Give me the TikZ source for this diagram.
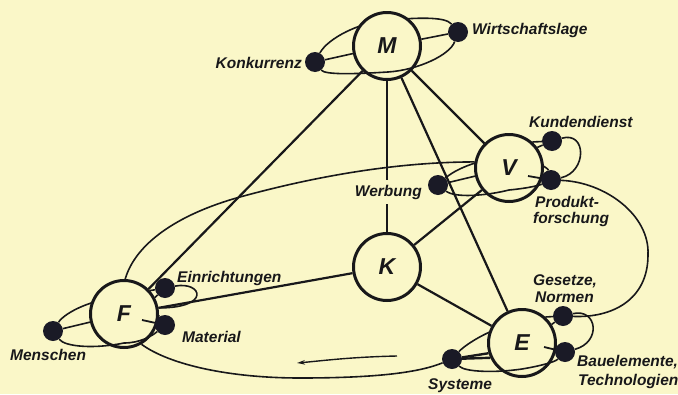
\documentclass[tikz,border=0pt]{standalone}
\usepackage{fontspec}
\setmainfont{Liberation Sans}
\usetikzlibrary{arrows.meta}
\definecolor{bg}{RGB}{250,247,200}
\definecolor{ink}{RGB}{24,24,26}
\definecolor{dotc}{RGB}{26,26,38}
\pgfdeclarelayer{bgl}\pgfdeclarelayer{back}\pgfdeclarelayer{mid}\pgfdeclarelayer{front}
\pgfsetlayers{bgl,back,main,mid,front}
\tikzset{
 hub/.style={circle,draw=ink,line width=3pt,fill=bg,minimum size=67pt,inner sep=0pt,font=\fontsize{23}{23}\selectfont\bfseries\itshape,text=ink},
 sat/.style={circle,fill=dotc,minimum size=20pt,inner sep=0pt},
 conn/.style={draw=ink,line width=2.2pt},
 loopln/.style={draw=ink,line width=1.6pt},
 tick/.style={draw=ink,line width=1.8pt},
 lbl/.style={font=\fontsize{15.5}{17}\selectfont\bfseries\itshape,text=ink,inner sep=0pt},
}
\begin{document}
\begin{tikzpicture}[x=1pt,y=-1pt]
\begin{pgfonlayer}{bgl}
\fill[bg] (0,0) rectangle (678,394);
\end{pgfonlayer}
\useasboundingbox (0,0) rectangle (678,394);
% hubs
\node[hub] (M) at (387,46) {M};
\node[hub] (V) at (509,168) {V};
\node[hub] (K) at (387,267) {K};
\node[hub] (F) at (124,314) {F};
\node[hub] (E) at (522,343) {E};
% satellites
\begin{pgfonlayer}{front}
\node[sat] (kon) at (315,62) {};
\node[sat] (wir) at (458,32) {};
\node[sat] (kun) at (552,141) {};
\node[sat] (pro) at (551,180) {};
\node[sat] (wer) at (438,185) {};
\node[sat] (ein) at (165,288) {};
\node[sat] (mat) at (165,325) {};
\node[sat] (men) at (53,331) {};
\node[sat] (ges) at (563,316) {};
\node[sat] (bau) at (565,352) {};
\node[sat] (sys) at (452,359) {};
\end{pgfonlayer}
% helper coordinates
\coordinate (mTop) at (388,20);
\coordinate (mBot) at (388,72);
\coordinate (vTop) at (500,157);
\coordinate (vBot) at (509,190);
\coordinate (fTop) at (120,298);
\coordinate (fBot) at (124,343);
\coordinate (eTop) at (520,322);
\coordinate (eBot) at (522,369);
\coordinate (bigA) at (240,197);
\coordinate (bigB) at (648,255);
\coordinate (bigC) at (300,378);
\coordinate (tickV) at (528,176);
\coordinate (tickF) at (142,320);
\coordinate (tickE) at (544,347);
\coordinate (arrS) at (397,356);
\coordinate (arrE) at (297,363);
% back layer: connectors and hidden arcs
\begin{pgfonlayer}{back}
\draw[conn] (M) -- (F);
\draw[conn] (M) -- (K);
\draw[conn] (M) -- (V);
\draw[conn] (M) -- (E);
\draw[conn] (K) -- (F);
\draw[conn] (K) -- (V);
\draw[conn] (K) -- (E);
% big loop
\draw[loopln] (F.88) .. controls (135,245) and (175,215) .. (bigA) .. controls (320,175) and (400,162) .. (V.170);
\draw[loopln] (pro) .. controls (605,182) and (650,215) .. (bigB) .. controls (648,300) and (612,318) .. (ges);
\draw[loopln] (F.300) .. controls (170,365) and (230,378) .. (bigC) .. controls (380,378) and (420,372) .. (sys);
% M group
\draw[loopln] (kon) .. controls (328,38) and (360,22) .. (mTop) .. controls (415,18) and (445,16) .. (wir);
\draw[loopln] (kon) -- (M);
\draw[loopln] (wir) -- (M);
% V group
\draw[loopln] (wer) .. controls (452,172) and (470,162) .. (vTop) .. controls (530,156) and (548,168) .. (pro);
\draw[loopln] (wer) -- (V);
\draw[loopln] (kun) -- (V.48);
\draw[loopln] (kun) -- (V.36);
\draw[loopln] (kun) .. controls (587,131) and (587,172) .. (pro);
% F group
\draw[loopln] (men) .. controls (65,312) and (95,298) .. (fTop) .. controls (140,298) and (155,310) .. (mat);
\draw[loopln] (men) -- (F);
\draw[loopln] (ein) -- (F.42);
\draw[loopln] (ein) -- (F.28);
\draw[loopln] (ein) .. controls (202,281) and (212,308) .. (F.10);
% E group
\draw[loopln] (sys) .. controls (465,345) and (490,328) .. (eTop) .. controls (540,322) and (555,345) .. (bau);
\draw[conn,line width=2.4pt] (sys) -- (E.197);
\draw[conn,line width=2.4pt] (sys) -- (E.205);
\draw[loopln] (ges) -- (E.48);
\draw[loopln] (ges) -- (E.32);
\draw[loopln] (ges) .. controls (597,308) and (602,342) .. (bau);
% arrow
\draw[ink,line width=1.4pt,-{Stealth[length=8pt,width=4.5pt]}] (arrS) .. controls (350,357) and (320,361) .. (arrE);
\end{pgfonlayer}
% mid layer: arcs crossing over hubs
\begin{pgfonlayer}{mid}
\draw[loopln] (kon) .. controls (325,75) and (355,74) .. (mBot) .. controls (418,70) and (450,55) .. (wir);
\draw[loopln] (wer) .. controls (455,198) and (485,196) .. (vBot) .. controls (530,188) and (540,185) .. (pro);
\draw[loopln] (men) .. controls (65,347) and (95,349) .. (fBot) .. controls (140,343) and (152,336) .. (mat);
\draw[loopln] (sys) .. controls (465,372) and (495,373) .. (eBot) .. controls (540,366) and (555,362) .. (bau);
\draw[tick] (tickV) -- (pro);
\draw[tick] (tickF) -- (mat);
\draw[tick] (tickE) -- (bau);
\end{pgfonlayer}
% labels
\begin{pgfonlayer}{front}
\node[lbl,anchor=base east] (tKon) at (302,68) {Konkurrenz};
\node[lbl,anchor=base west] (tWir) at (472,34) {Wirtschaftslage};
\node[lbl,anchor=base west] (tKun) at (529,127) {Kundendienst};
\node[lbl,anchor=base east,fill=bg,inner xsep=3pt,inner ysep=5pt] (tWer) at (425,196) {Werbung};
\node[lbl,anchor=base west] (tPro1) at (535,207) {Produkt-};
\node[lbl,anchor=base west] (tPro2) at (533,223) {forschung};
\node[lbl,anchor=base west] (tEin) at (177,282) {Einrichtungen};
\node[lbl,anchor=base west] (tMat) at (182,342) {Material};
\node[lbl,anchor=base west] (tMen) at (10,360) {Menschen};
\node[lbl,anchor=base west] (tGes1) at (533,285) {Gesetze,};
\node[lbl,anchor=base west] (tGes2) at (535,302) {Normen};
\node[lbl,anchor=base west] (tBau1) at (577,366) {Bauelemente,};
\node[lbl,anchor=base west] (tBau2) at (578,385) {Technologien};
\node[lbl,anchor=base west] (tSys) at (428,389) {Systeme};
\end{pgfonlayer}
\end{tikzpicture}
\end{document}
